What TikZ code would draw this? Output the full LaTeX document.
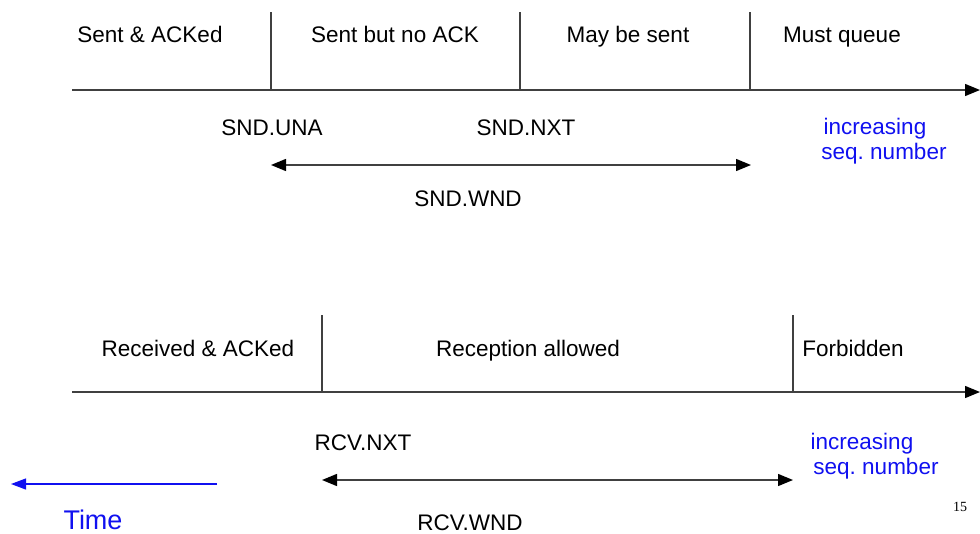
\documentclass[tikz,border=0pt]{standalone}
\usepackage{fontspec}
\setmainfont{Liberation Sans}
\newfontfamily\serifnum{Liberation Serif}
\usetikzlibrary{arrows.meta}
\frenchspacing
\definecolor{axisgray}{HTML}{404040}
\definecolor{seqblue}{HTML}{1010F0}
\tikzset{
  lbl/.style={font=\fontsize{22.5}{24}\selectfont, inner sep=0pt, anchor=base},
  bluelbl/.style={lbl, text=seqblue},
  axis/.style={draw=axisgray, line width=1.4pt, -{Triangle[length=15pt,width=12pt,color=black,fill=black]}},
  divider/.style={draw=axisgray, line width=1.2pt},
  span/.style={draw=axisgray, line width=1.4pt, {Triangle[length=15pt,width=12pt,color=black,fill=black]}-{Triangle[length=15pt,width=12pt,color=black,fill=black]}},
  timearrow/.style={draw=seqblue, line width=1.2pt, -{Triangle[length=15pt,width=11pt]}}
}
\begin{document}
\begin{tikzpicture}[x=1pt,y=-1pt]
\useasboundingbox (0,0) rectangle (980,533);

% sender side
\coordinate (sa0) at (72,90);
\coordinate (sa1) at (980,90);
\draw[axis] (sa0) -- (sa1);
\coordinate (sd1t) at (271,12); \coordinate (sd1b) at (271,90);
\coordinate (sd2t) at (520,12); \coordinate (sd2b) at (520,90);
\coordinate (sd3t) at (750,12); \coordinate (sd3b) at (750,90);
\draw[divider] (sd1t) -- (sd1b);
\draw[divider] (sd2t) -- (sd2b);
\draw[divider] (sd3t) -- (sd3b);
\node[lbl] (sacked) at (150,42) {Sent \& ACKed};
\node[lbl] (snoack) at (395,42) {Sent but no ACK};
\node[lbl] (maysend) at (628,42) {May be sent};
\node[lbl] (mustq) at (842,42) {Must queue};
\node[lbl] (sndua) at (272,135) {SND.UNA};
\node[lbl] (sndnxt) at (526,135) {SND.NXT};
\node[bluelbl] (sinc) at (875,134) {increasing};
\node[bluelbl] (sseq) at (884,159) {seq. number};
\coordinate (sw0) at (271,165);
\coordinate (sw1) at (751,165);
\draw[span] (sw0) -- (sw1);
\node[lbl] (sndwnd) at (468,206) {SND.WND};

% receiver side
\coordinate (ra0) at (72,392);
\coordinate (ra1) at (980,392);
\draw[axis] (ra0) -- (ra1);
\coordinate (rd1t) at (322,315); \coordinate (rd1b) at (322,392);
\coordinate (rd2t) at (793,315); \coordinate (rd2b) at (793,392);
\draw[divider] (rd1t) -- (rd1b);
\draw[divider] (rd2t) -- (rd2b);
\node[lbl] (racked) at (198,356) {Received \& ACKed};
\node[lbl] (rallow) at (528,356) {Reception allowed};
\node[lbl] (rforbid) at (853,356) {Forbidden};
\node[lbl] (rcvnxt) at (363,450) {RCV.NXT};
\node[bluelbl] (rinc) at (862,449) {increasing};
\node[bluelbl] (rseq) at (876,474) {seq. number};
\coordinate (rw0) at (322,480);
\coordinate (rw1) at (793,480);
\draw[span] (rw0) -- (rw1);
\node[lbl] (rcvwnd) at (470,530) {RCV.WND};

% time direction
\coordinate (t0) at (217,484);
\coordinate (t1) at (11,484);
\draw[timearrow] (t0) -- (t1);
\node[font=\fontsize{27}{30}\selectfont, text=seqblue, inner sep=0pt, anchor=base] (time) at (93,529) {Time};

% page number
\node[font=\serifnum\fontsize{14}{16}\selectfont, inner sep=0pt, anchor=base] (pg) at (960,511) {15};
\end{tikzpicture}
\end{document}
